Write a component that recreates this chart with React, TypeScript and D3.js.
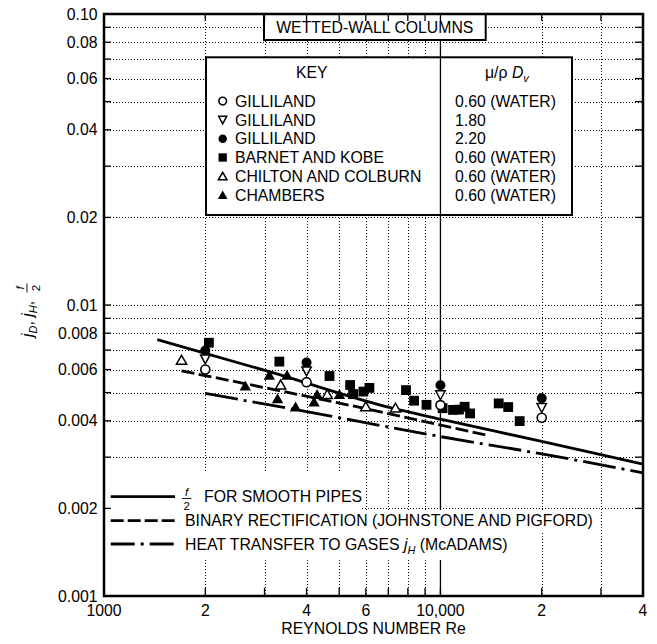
import React from 'react';
import * as d3 from 'd3';

const W = 657, H = 644;
const FONT = "'Liberation Sans', Arial, Helvetica, sans-serif";
const FS = 15.8;

// axes
const xTickValues = [1000, 2000, 4000, 6000, 10000, 20000, 40000];
const xTickLabels = ['1000', '2', '4', '6', '10,000', '2', '4'];
const xGridValues = [2000, 3000, 4000, 5000, 6000, 7000, 8000, 9000, 20000, 30000];
const yTickValues = [0.1, 0.08, 0.06, 0.04, 0.02, 0.01, 0.008, 0.006, 0.004, 0.002, 0.001];
const yTickLabels = ['0.10', '0.08', '0.06', '0.04', '0.02', '0.01', '0.008', '0.006', '0.004', '0.002', '0.001'];
const yGridValues = [0.002, 0.003, 0.004, 0.005, 0.006, 0.007, 0.008, 0.009, 0.01, 0.02, 0.03, 0.04, 0.05, 0.06, 0.07, 0.08, 0.09];

// curves
const smoothRe = [1440, 3100, 7200, 10000, 20000, 40000];
const smoothJ = [0.0076, 0.0059, 0.00442, 0.00405, 0.0034, 0.00284];
const binaryRe = [1700, 5900, 14000];
const binaryJ = [0.00594, 0.00442, 0.00355];
const heatRe = [2000, 4000, 10000, 20000, 40000];
const heatJ = [0.00497, 0.0043, 0.00353, 0.00308, 0.00265];

// data points
const gillilandRe = [2000, 4000, 10000, 20000];
const gilliland060J = [0.0060, 0.00543, 0.00453, 0.0041];
const gilliland180J = [0.00651, 0.00592, 0.0049, 0.00443];
const gilliland220J = [0.00698, 0.00634, 0.0053, 0.00478];
const barnetRe = [2050, 3320, 4680, 5390, 5500, 5900, 6150, 7900, 8350, 9090, 10150, 10900, 11350, 11800, 12250, 14900, 15900, 17200];
const barnetJ = [0.00742, 0.00639, 0.0057, 0.00531, 0.00494, 0.00504, 0.00519, 0.0051, 0.00469, 0.00454, 0.00442, 0.00436, 0.00437, 0.00447, 0.00424, 0.00459, 0.00446, 0.00399];
const chiltonRe = [1700, 3350, 4610, 6000, 7350];
const chiltonJ = [0.00647, 0.00532, 0.00493, 0.00448, 0.00443];
const chambersRe = [2630, 3100, 3500, 3280, 3710, 4300, 4210, 5010];
const chambersJ = [0.00528, 0.00575, 0.00575, 0.00477, 0.00447, 0.00493, 0.00465, 0.00493];

// key
const keyNames = ['GILLILAND', 'GILLILAND', 'GILLILAND', 'BARNET AND KOBE', 'CHILTON AND COLBURN', 'CHAMBERS'];
const keyValues = ['0.60 (WATER)', '1.80', '2.20', '0.60 (WATER)', '0.60 (WATER)', '0.60 (WATER)'];
const keySymbols = ['circleOpen', 'triDownOpen', 'circleFilled', 'square', 'triUpOpen', 'triUpFilled'];

function Marker({ type, cx, cy, s = 1 }: { type: string; cx: number; cy: number; s?: number }) {
  switch (type) {
    case 'circleOpen':
      return <circle cx={cx} cy={cy} r={4.5 * s} fill="#fff" stroke="#000" strokeWidth={1.6} />;
    case 'circleFilled':
      return <circle cx={cx} cy={cy} r={5 * s} fill="#000" />;
    case 'square': {
      const h = 4.9 * s;
      return <rect x={cx - h} y={cy - h} width={2 * h} height={2 * h} fill="#000" />;
    }
    case 'triDownOpen':
      return <path d={`M${cx - 4.7 * s},${cy - 4.3 * s}L${cx + 4.7 * s},${cy - 4.3 * s}L${cx},${cy + 4.6 * s}Z`} fill="#fff" stroke="#000" strokeWidth={1.5} />;
    case 'triUpOpen':
      return <path d={`M${cx - 5.1 * s},${cy + 4.2 * s}L${cx + 5.1 * s},${cy + 4.2 * s}L${cx},${cy - 4.7 * s}Z`} fill="#fff" stroke="#000" strokeWidth={1.5} />;
    case 'triUpFilled':
      return <path d={`M${cx - 5.7 * s},${cy + 4.7 * s}L${cx + 5.7 * s},${cy + 4.7 * s}L${cx},${cy - 5.3 * s}Z`} fill="#000" />;
  }
  return null;
}

export default function App() {
  const X0 = 104, X1 = 643, YB = 596, YT = 14;
  const x = d3.scaleLog().domain([1000, 40000]).range([X0, X1]);
  const y = d3.scaleLog().domain([0.001, 0.1]).range([YB, YT]);
  const mk = (re: number[], j: number[]) =>
    d3.line<number>().x((_, i) => x(re[i])).y((_, i) => y(j[i])).curve(d3.curveMonotoneX)(re) || '';

  const dot = { stroke: '#000', strokeWidth: 1, strokeDasharray: '1 2', shapeRendering: 'crispEdges' as const };

  const keyRowY = (i: number) => 106.7 + i * 18.8;

  return (
    <svg width={W} height={H} style={{ position: 'absolute', left: 0, top: 0, background: '#fff' }} fontFamily={FONT}>
      <rect width={W} height={H} fill="#fff" />
      {/* gridlines */}
      {xGridValues.map(v => (
        <line key={'gx' + v} x1={Math.round(x(v)) + 0.5} x2={Math.round(x(v)) + 0.5} y1={YT} y2={YB} {...dot} />
      ))}
      {yGridValues.map(v => (
        <line key={'gy' + v} x1={X0} x2={X1} y1={Math.round(y(v)) + 0.5} y2={Math.round(y(v)) + 0.5} {...dot} />
      ))}
      {/* 10,000 solid line */}
      <line x1={x(10000)} x2={x(10000)} y1={YT} y2={YB} stroke="#000" strokeWidth={1.3} />

      {/* boxes */}
      <rect x={264} y={YT} width={221.7} height={26} fill="#fff" stroke="#000" strokeWidth={2} />
      <text x={374.8} y={32.5} fontSize={FS} textAnchor="middle">WETTED-WALL COLUMNS</text>

      <rect x={206} y={57.3} width={366} height={157.7} fill="#fff" stroke="#000" strokeWidth={2} />
      <line x1={x(10000)} x2={x(10000)} y1={57.3} y2={215} stroke="#000" strokeWidth={1.3} />
      <text x={311.7} y={78.3} fontSize={FS} textAnchor="middle">KEY</text>
      <text x={485} y={78.3} fontSize={FS}>
        <tspan>μ/ρ </tspan>
        <tspan fontStyle="italic">D</tspan>
        <tspan fontStyle="italic" fontSize={11} dy={4}>v</tspan>
      </text>
      {keyNames.map((n, i) => (
        <g key={'k' + i}>
          <Marker type={keySymbols[i]} cx={222.7} cy={keyRowY(i) - 5.6} s={0.85} />
          <text x={235} y={keyRowY(i)} fontSize={FS}>{n}</text>
          <text x={455} y={keyRowY(i)} fontSize={FS}>{keyValues[i]}</text>
        </g>
      ))}

      {/* legend backgrounds */}
      <rect x={105.5} y={473} width={256} height={37} fill="#fff" />
      <rect x={105.5} y={510} width={491} height={22} fill="#fff" />
      <rect x={105.5} y={532} width={411} height={28} fill="#fff" />

      {/* ticks */}
      {yGridValues.map(v => (
        <g key={'ty' + v}>
          <line x1={X0} x2={X0 + 7} y1={y(v)} y2={y(v)} stroke="#000" strokeWidth={1.3} />
          <line x1={X1 - 8} x2={X1} y1={y(v)} y2={y(v)} stroke="#000" strokeWidth={1.3} />
        </g>
      ))}
      {[...xGridValues, 10000].map(v => (
        <g key={'tx' + v}>
          <line x1={x(v)} x2={x(v)} y1={YB} y2={YB - 8} stroke="#000" strokeWidth={1.3} />
          <line x1={x(v)} x2={x(v)} y1={YT} y2={YT + 7} stroke="#000" strokeWidth={1.3} />
        </g>
      ))}

      {/* frame */}
      <rect x={X0} y={YT} width={X1 - X0} height={YB - YT} fill="none" stroke="#000" strokeWidth={2.5} />

      {/* curves */}
      <path d={mk(smoothRe, smoothJ)} fill="none" stroke="#000" strokeWidth={2.8} />
      <path d={mk(binaryRe, binaryJ)} fill="none" stroke="#000" strokeWidth={2.8} strokeDasharray="13 4.5" />
      <path d={mk(heatRe, heatJ)} fill="none" stroke="#000" strokeWidth={2.8} strokeDasharray="33 6 3 6" />

      {/* markers */}
      {barnetRe.map((r, i) => <Marker key={'b' + i} type="square" cx={x(r)} cy={y(barnetJ[i])} />)}
      {chambersRe.map((r, i) => <Marker key={'c' + i} type="triUpFilled" cx={x(r)} cy={y(chambersJ[i])} />)}
      {chiltonRe.map((r, i) => <Marker key={'h' + i} type="triUpOpen" cx={x(r)} cy={y(chiltonJ[i])} />)}
      {gillilandRe.map((r, i) => <Marker key={'g2' + i} type="circleFilled" cx={x(r)} cy={y(gilliland220J[i])} />)}
      {gillilandRe.map((r, i) => <Marker key={'g1' + i} type="triDownOpen" cx={x(r)} cy={y(gilliland180J[i])} />)}
      {gillilandRe.map((r, i) => <Marker key={'g0' + i} type="circleOpen" cx={x(r)} cy={y(gilliland060J[i])} />)}

      {/* legend */}
      <line x1={110.7} x2={175} y1={496.7} y2={496.7} stroke="#000" strokeWidth={2.8} />
      <line x1={110.7} x2={175} y1={520.7} y2={520.7} stroke="#000" strokeWidth={2.8} strokeDasharray="13 4" />
      <line x1={110.7} x2={175} y1={544} y2={544} stroke="#000" strokeWidth={2.8} strokeDasharray="24 6 3 6" />
      <text x={186.5} y={495.5} fontSize={11.5} fontStyle="italic" textAnchor="middle">f</text>
      <line x1={182} x2={191.5} y1={498.5} y2={498.5} stroke="#000" strokeWidth={0.9} />
      <text x={186.8} y={510} fontSize={11.5} textAnchor="middle">2</text>
      <text x={204} y={502} fontSize={FS}>FOR SMOOTH PIPES</text>
      <text x={185} y={526} fontSize={FS}>BINARY RECTIFICATION (JOHNSTONE AND PIGFORD)</text>
      <text x={185} y={550} fontSize={FS}>
        <tspan>HEAT TRANSFER TO GASES </tspan>
        <tspan fontStyle="italic">j</tspan>
        <tspan fontStyle="italic" fontSize={11} dy={4}>H</tspan>
        <tspan dy={-4}> (McADAMS)</tspan>
      </text>

      {/* tick labels */}
      {yTickValues.map((v, i) => (
        <text key={'yl' + v} x={97.5} y={y(v)} dy="0.36em" fontSize={FS} textAnchor="end">{yTickLabels[i]}</text>
      ))}
      {xTickValues.map((v, i) => (
        <text key={'xl' + v} x={x(v)} y={616} fontSize={FS} textAnchor="middle">{xTickLabels[i]}</text>
      ))}
      <text x={373.5} y={634} fontSize={FS} textAnchor="middle">REYNOLDS NUMBER Re</text>

      {/* y label */}
      <g transform="translate(33,310) rotate(-90)">
        <text x={-27} y={0} fontSize={FS}>
          <tspan fontStyle="italic">j</tspan>
          <tspan fontStyle="italic" fontSize={11} dy={4}>D</tspan>
          <tspan dy={-4}>, </tspan>
          <tspan fontStyle="italic">j</tspan>
          <tspan fontStyle="italic" fontSize={11} dy={4}>H</tspan>
          <tspan dy={-4}>,</tspan>
        </text>
        <text x={22} y={-9} fontSize={11.5} fontStyle="italic" textAnchor="middle">f</text>
        <line x1={17.5} x2={26.5} y1={-6} y2={-6} stroke="#000" strokeWidth={0.9} />
        <text x={22} y={6.5} fontSize={11.5} textAnchor="middle">2</text>
      </g>
    </svg>
  );
}
